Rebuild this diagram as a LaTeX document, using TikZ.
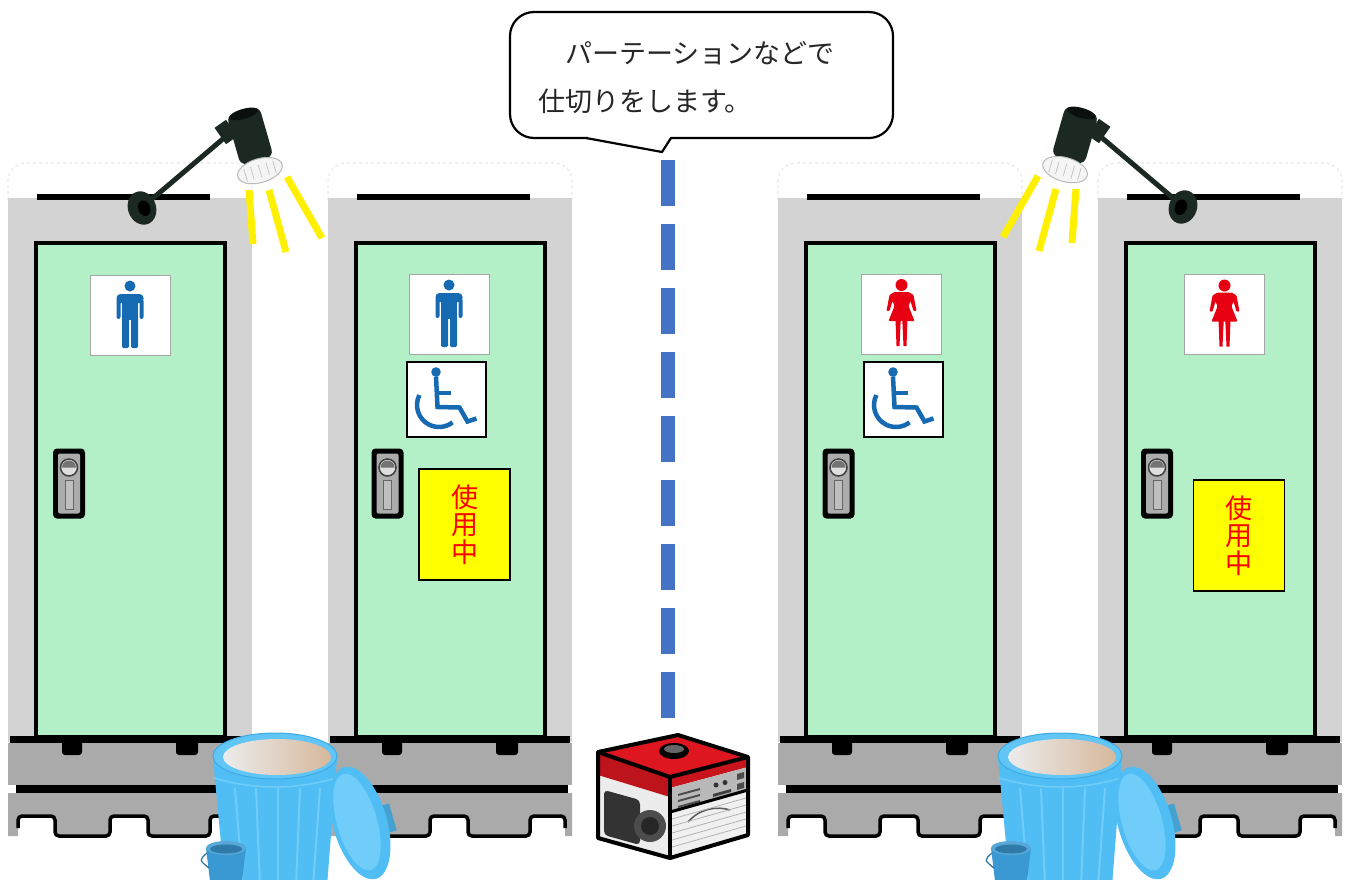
\documentclass[tikz,border=0pt]{standalone}
\usepackage{fontspec}
\newfontfamily\jpfont{Noto Sans CJK JP}

\definecolor{boothgray}{RGB}{211,211,211}
\definecolor{doorgreen}{RGB}{179,240,199}
\definecolor{basegray}{RGB}{170,170,170}
\definecolor{partblue}{RGB}{68,114,196}
\definecolor{manblue}{RGB}{22,106,178}
\definecolor{womanred}{RGB}{230,0,18}
\definecolor{lampdark}{RGB}{28,40,34}
\definecolor{rayyellow}{RGB}{255,240,0}
\definecolor{signyellow}{RGB}{255,255,0}
\definecolor{canblue}{RGB}{80,190,245}
\definecolor{canlight}{RGB}{112,205,250}
\definecolor{canedge}{RGB}{60,170,230}
\definecolor{canfloor}{RGB}{214,184,156}
\definecolor{pailblue}{RGB}{58,152,210}
\definecolor{genred}{RGB}{222,22,32}

\tikzset{
  booth/.style={fill=boothgray},
  door/.style={fill=doorgreen, draw=black, line width=4},
  basefill/.style={fill=basegray},
  baserim/.style={draw=black, line width=3.5, rounded corners=4},
  roofline/.style={draw=gray!18, dashed, line width=1.2},
  signbox/.style={draw=gray!70, line width=0.8, fill=white, minimum size=80, inner sep=0},
  wheelbox/.style={draw=black, line width=2.5, fill=white, minimum width=79, minimum height=75, inner sep=0},
  inuse/.style={draw=black, line width=1.2, fill=signyellow, minimum width=91, minimum height=111,
    inner sep=0, text=red, align=center, font=\jpfont\fontsize{27}{27.5}\selectfont},
  ray/.style={draw=rayyellow, line width=7},
  partition/.style={draw=partblue, line width=14, dash pattern=on 46pt off 18pt},
  bubble/.style={draw=black, line width=2.2, fill=white},
  bubbletext/.style={inner sep=0, align=left, text=black!85, font=\jpfont\fontsize{27}{48}\selectfont},
  genframe/.style={draw=black, line width=4, line join=round},
  wheelline/.style={draw=manblue, line width=4.5},
  % pictograms and fittings
  man/.pic={
    \fill[manblue] (0,-29) circle (5.5);
    \fill[manblue, rounded corners=4] (-13.5,-21) rectangle (13.5,-12);
    \fill[manblue] (-8,-15) rectangle (8,5);
    \fill[manblue, rounded corners=2] (-13.5,-16) rectangle (-9.5,4);
    \fill[manblue, rounded corners=2] (9.5,-16) rectangle (13.5,4);
    \fill[manblue, rounded corners=1.5] (-8,2) rectangle (-1,33);
    \fill[manblue, rounded corners=1.5] (1,2) rectangle (8,33);
  },
  woman/.pic={
    \fill[womanred] (0,-29) circle (6);
    \fill[womanred, rounded corners=1] (-7,-22) -- (7,-22) -- (12,-19) -- (15,-3) -- (12,-3)
      -- (9,-13) -- (7,-8) -- (13,7) -- (-13,7) -- (-7,-8) -- (-9,-13) -- (-12,-3)
      -- (-15,-3) -- (-12,-19) -- cycle;
    \fill[womanred] (-6,6) -- (-0.8,6) -- (-2,32) -- (-5,32) -- cycle;
    \fill[womanred] (6,6) -- (0.8,6) -- (2,32) -- (5,32) -- cycle;
  },
  wheelchair/.pic={
    \fill[manblue] (-10.5,-27.5) circle (4.8);
    \draw[wheelline] (-10.5,-23) -- (-9,7.5) -- (13,8) -- (21,22) -- (30,19);
    \draw[manblue, line width=3.5] (-9,-6.5) -- (4,-6.5);
    \draw[wheelline] (-27.1,-4.5) arc[start angle=-153, end angle=-308, radius=22];
  },
  handle/.pic={
    \fill[black, rounded corners=4] (-16,-35) rectangle (16,35);
    \fill[gray!65, rounded corners=2] (-11,-30) rectangle (11,30);
    \draw[black!75, line width=1.5, fill=gray!25] (0,-16) circle (8.5);
    \fill[black!55] (-7,-16) arc[start angle=180, end angle=360, radius=7] -- cycle;
    \draw[black!60, line width=0.8, fill=gray!50] (-4,-3) rectangle (4,26);
  },
  lamp/.pic={
    \draw[ray] (107,-18) -- (111,36);
    \draw[ray] (127,-18) -- (144,44);
    \draw[ray] (145,-31) -- (180,30);
    \draw[lampdark, line width=5, line cap=round] (3,-3) -- (82,-70);
    \fill[lampdark, rotate around={35:(84,-76)}] (77,-86) rectangle (91,-66);
    \fill[lampdark, rotate=20] (0,0) ellipse [x radius=14, y radius=17];
    \fill[black, rotate=20] (2,1) ellipse [x radius=6, y radius=8];
    \begin{scope}[rotate around={16:(108,-72)}]
      \fill[lampdark, rounded corners=7] (91,-98) rectangle (125,-46);
      \fill[black!60!lampdark] (108,-95) ellipse [x radius=15, y radius=5];
      \fill[gray!8, draw=gray!55, line width=1] (108,-36) ellipse [x radius=23, y radius=12];
      \foreach \k in {-15,-8,0,8,15}
        \draw[gray!45, line width=0.8] (108+\k,-42) -- (108+\k,-29);
    \end{scope}
  },
  trashcan/.pic={
    \fill[canblue] (-62,2) -- (-50,130) -- (52,130) -- (62,2) -- cycle;
    \draw[canlight, line width=1.5] (-61,22) .. controls (-20,34) and (20,34) .. (61,22);
    \foreach \a/\b in {-40/-32,-19/-15,3/3,25/21,45/38}
      \draw[canlight, line width=2] (\a,32) -- (\b,130);
    \fill[canblue!90!white, draw=canedge, line width=1] (0,0) ellipse [x radius=62, y radius=23];
    \shade[left color=gray!15, right color=canfloor] (2,1) ellipse [x radius=54, y radius=18];
    % small pail
    \fill[pailblue] (-69,92) -- (-65,125) -- (-33,125) -- (-29,92) -- cycle;
    \draw[pailblue!75!black, line width=1.2] (-68,97) .. controls (-76,104) .. (-66,112);
    \fill[pailblue!85!white] (-49,92) ellipse [x radius=20, y radius=7];
    \fill[pailblue!80!black] (-49,93) ellipse [x radius=16, y radius=4.5];
    % lid leaning on the can
    \fill[canblue!85!black, rotate around={16:(114,62)}] (110,48) rectangle (118,76);
    \fill[canblue, rotate around={16:(85,67)}] (85,67) ellipse [x radius=27, y radius=58];
    \fill[canlight, rotate around={16:(82,66)}] (82,66) ellipse [x radius=20, y radius=50];
  }
}

\begin{document}
\begin{tikzpicture}[x=1pt,y=-1pt]
  \useasboundingbox (0,0) rectangle (1351,879);
  \clip (0,0) rectangle (1351,879);
  \fill[white] (0,0) rectangle (1351,879);

  % booths
  \foreach \ux in {0,320,770,1090}{
    \begin{scope}[xshift=\ux]
      \draw[roofline, rounded corners=18] (8,200) -- (8,163) -- (252,163) -- (252,200);
      \fill[booth] (8,198) rectangle (252,742);
      \fill[black] (37,194) rectangle (210,200);
      \draw[door] (36,243) rectangle (225,737);
      \fill[black] (10,736) rectangle (250,743);
      \fill[basefill] (8,743) rectangle (252,785);
      \fill[black, rounded corners=3] (62,740) rectangle (82,755) (176,740) rectangle (198,755);
      \fill[black] (16,785) rectangle (248,793);
      \fill[basefill] (8,793) -- (252,793) -- (252,836) -- (245,836) -- (245,816) -- (210,816)
        -- (210,836) -- (148,836) -- (148,816) -- (110,816) -- (110,836) -- (55,836)
        -- (55,816) -- (18,816) -- (18,836) -- (8,836) -- cycle;
      \draw[baserim] (18,828) -- (18,816) -- (55,816) -- (55,836) -- (110,836) -- (110,816)
        -- (148,816) -- (148,836) -- (210,836) -- (210,816) -- (245,816) -- (245,828);
    \end{scope}
  }

  % door signs
  \node[signbox] (male1) at (130,315) {};
  \pic at (male1) {man};
  \node[signbox] (male2) at (449,314) {};
  \pic at (male2) {man};
  \node[wheelbox] (wheel2) at (446.5,399.5) {};
  \pic at (wheel2) {wheelchair};
  \node[inuse] (busy2) at (464.5,524.5) {使\\用\\中};
  \node[signbox] (female3) at (901.5,314) {};
  \pic at (female3) {woman};
  \node[wheelbox] (wheel3) at (903.5,399.5) {};
  \pic at (wheel3) {wheelchair};
  \node[signbox] (female4) at (1224.5,314.5) {};
  \pic at (female4) {woman};
  \node[inuse] (busy4) at (1239,535.5) {使\\用\\中};

  % door handles
  \foreach \hx in {69,387.5,838.5,1157}
    \pic at (\hx,483.5) {handle};

  % lights
  \pic at (142,208) {lamp};
  \pic[xscale=-1] at (1183,207) {lamp};

  % water cans
  \pic at (275,756) {trashcan};
  \pic at (1060,756) {trashcan};

  % generator
  \fill[gray!15] (598,775) -- (670,797) -- (670,858) -- (598,838) -- cycle;
  \fill[black!80, rounded corners=4] (604,790) -- (640,800) -- (640,845) -- (604,835) -- cycle;
  \fill[black!70] (650,826) circle (16);
  \fill[black!85] (650,826) circle (9);
  \fill[genred] (598,752) -- (678,735) -- (748,757) -- (670,777) -- cycle;
  \fill[genred!85!black] (598,752) -- (670,777) -- (670,797) -- (598,775) -- cycle;
  \fill[genred!90!black] (670,777) -- (748,757) -- (748,767) -- (670,788) -- cycle;
  \fill[gray!55] (670,788) -- (748,767) -- (748,790) -- (670,812) -- cycle;
  \foreach \k in {0,1,2}
    \fill[black!70] (678,794+6*\k) -- (700,788+6*\k) -- (700,790+6*\k) -- (678,796+6*\k) -- cycle;
  \fill[black!80] (716,785) circle (2.5) (725,782.5) circle (2.5);
  \fill[black!75] (713,794) -- (731,789) -- (731,792) -- (713,797) -- cycle;
  \fill[black!70] (737,774) -- (744,772) -- (744,778) -- (737,780) -- cycle;
  \fill[black!70] (737,784) -- (744,782) -- (744,788) -- (737,790) -- cycle;
  \fill[gray!12] (670,812) -- (748,790) -- (748,835) -- (670,858) -- cycle;
  \draw[black!65, line width=1.5] (688,822) .. controls (700,808) and (718,806) .. (730,810);
  \foreach \k in {1,...,5}
    \draw[gray!60, line width=0.8] (672,812+7*\k) -- (746,791+7*\k);
  \fill[black] (674,751) ellipse [x radius=15, y radius=8];
  \fill[black!60] (674,749) ellipse [x radius=10, y radius=4];
  \draw[genframe] (598,752) -- (678,735) -- (748,757) -- (748,835) -- (670,858) -- (598,838) -- cycle;
  \draw[genframe] (598,752) -- (670,777) -- (748,757);
  \draw[genframe] (670,777) -- (670,858);
  \draw[black, line width=3] (670,812) -- (748,790);

  % partition line
  \coordinate (parttop) at (668,160);
  \coordinate (partbot) at (668,718);
  \draw[partition] (parttop) -- (partbot);

  % speech bubble
  \draw[bubble, rounded corners=24] (510,12) rectangle (893,138);
  \fill[white] (586,136) -- (662,152) -- (671,136) -- cycle;
  \fill[white] (588,135.5) rectangle (670,140);
  \draw[black, line width=2.2, line join=round] (586,138) -- (662,152) -- (671,138);
  \node[bubbletext, anchor=north west] (note) at (538,41) {　パーテーションなどで\\仕切りをします。};
\end{tikzpicture}
\end{document}
